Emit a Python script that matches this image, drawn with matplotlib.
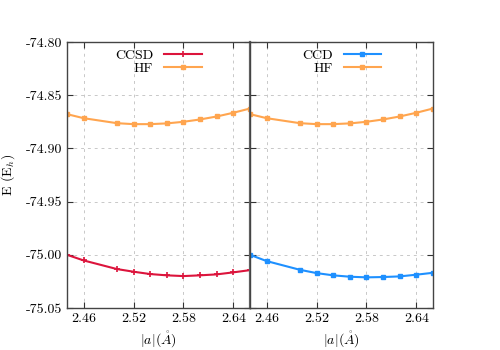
import numpy as np
import matplotlib
matplotlib.use("Agg")
import matplotlib.pyplot as plt
from matplotlib.ticker import FormatStrFormatter

plt.rcParams["font.family"] = "cmr10"
plt.rcParams["mathtext.fontset"] = "cm"
plt.rcParams["axes.unicode_minus"] = False
plt.rcParams["axes.formatter.use_mathtext"] = False

# ---- Data ----
a = [2.44, 2.46, 2.50, 2.52, 2.54, 2.56, 2.58, 2.60, 2.62, 2.64, 2.66]
hf = [-74.8678, -74.8716, -74.8763, -74.8772, -74.8772, -74.8765,
      -74.8750, -74.8728, -74.8700, -74.8665, -74.8625]
ccsd = [-75.0000, -75.0053, -75.0134, -75.0159, -75.0181, -75.0193,
        -75.0200, -75.0193, -75.0184, -75.0165, -75.0144]
ccd = [-75.0000, -75.0059, -75.0141, -75.0172, -75.0193, -75.0206,
       -75.0212, -75.0209, -75.0203, -75.0187, -75.0169]

xticks = [2.46, 2.52, 2.58, 2.64]
yticks = [-74.80, -74.85, -74.90, -74.95, -75.00, -75.05]

RED = "#dc143c"
ORANGE = "#ffa54f"
BLUE = "#1e90ff"

fig = plt.figure(figsize=(5, 3.5), dpi=100)
ax1 = fig.add_axes([0.134, 0.12, 0.366, 0.76])
ax2 = fig.add_axes([0.5, 0.12, 0.366, 0.76], sharey=ax1)

ax1.plot(a, ccsd, color=RED, lw=1.5, marker="+", ms=4, mew=1.2, label="CCSD")
ax1.plot(a, hf, color=ORANGE, lw=1.5, marker="s", ms=3, label="HF")
ax2.plot(a, ccd, color=BLUE, lw=1.5, marker="s", ms=3, label="CCD")
ax2.plot(a, hf, color=ORANGE, lw=1.5, marker="s", ms=3, label="HF")

for ax in (ax1, ax2):
    ax.set_xlim(2.44, 2.66)
    ax.set_ylim(-75.05, -74.80)
    ax.set_xticks(xticks)
    ax.set_yticks(yticks)
    ax.xaxis.set_major_formatter(FormatStrFormatter("%.2f"))
    ax.yaxis.set_major_formatter(FormatStrFormatter("%.2f"))
    ax.tick_params(direction="in", top=True, right=True, length=4,
                   labelsize=10, color="#333333")
    ax.grid(True, ls=(0, (3, 4)), color="#c8c8c8", lw=0.7)
    for s in ax.spines.values():
        s.set_color("#444444")
        s.set_linewidth(1.0)
    ax.set_xlabel(r"$|a|(\mathring{A})$", fontsize=10, labelpad=3)
    ax.legend(loc="upper center", bbox_to_anchor=(0.5, 1.0),
              frameon=False, markerfirst=False, fontsize=10,
              handlelength=2.7, labelspacing=0.05, borderaxespad=0.1)

ax2.tick_params(labelleft=False)
ax1.spines["right"].set_linewidth(1.6)
ax1.spines["right"].set_color("#666666")
ax1.set_ylabel(r"E (E$_h$)", fontsize=10, labelpad=6)

fig.savefig("out.png", dpi=100)
